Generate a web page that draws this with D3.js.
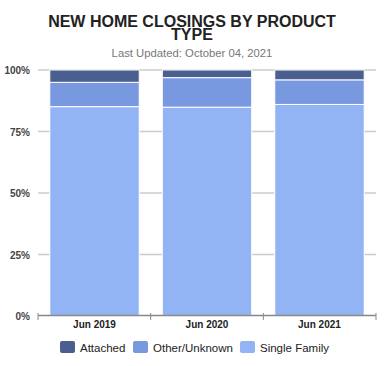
<!DOCTYPE html>
<html><head><meta charset="utf-8">
<script src="https://cdn.jsdelivr.net/npm/d3@7"></script>
<style>body{margin:0;background:#fff;font-family:"Liberation Sans",Arial,sans-serif;}</style>
</head><body><svg id="c" width="388" height="366"></svg>
<script>
const categories = ["Jun 2019","Jun 2020","Jun 2021"];
const seriesNames = ["Single Family","Other/Unknown","Attached"];
const singleFamily = [85.1, 84.9, 86.0];
const otherUnknown = [9.9, 12.0, 10.0];
const attached = [5.0, 3.1, 4.0];
const yTicks = [0,25,50,75,100];
const colors = {"Attached":"#4a5e8f","Other/Unknown":"#7898e0","Single Family":"#93b4f4"};

const svg = d3.select("#c");
const m = {l:38, r:12, t:70, b:50};
const W = 388, H = 366;
const x = d3.scaleBand().domain(categories).range([m.l, W-m.r]).paddingInner(0.205).paddingOuter(0.105);
const y = d3.scaleLinear().domain([0,100]).range([316, 70]);

svg.append("text").attr("x",192).attr("y",27).attr("text-anchor","middle")
  .attr("font-size",16).attr("font-weight","bold").attr("fill","#222").text("NEW HOME CLOSINGS BY PRODUCT");
svg.append("text").attr("x",192).attr("y",39.5).attr("text-anchor","middle")
  .attr("font-size",16).attr("font-weight","bold").attr("fill","#222").text("TYPE");
svg.append("text").attr("x",192).attr("y",57).attr("text-anchor","middle")
  .attr("font-size",11.3).attr("fill","#777").text("Last Updated: October 04, 2021");

// grid
svg.append("g").selectAll("line").data(yTicks.filter(d=>d>0)).join("line")
  .attr("x1",m.l).attr("x2",W-m.r).attr("y1",d=>y(d)).attr("y2",d=>y(d))
  .attr("stroke","#ccc").attr("stroke-width",1.5);
svg.append("g").selectAll("text").data(yTicks).join("text")
  .attr("x",30).attr("y",d=>y(d)+4).attr("text-anchor","end")
  .attr("font-size",10).attr("font-weight","bold").attr("fill","#444").text(d=>d+"%");

const rows = categories.map((c,i)=>({cat:c,"Single Family":singleFamily[i],"Other/Unknown":otherUnknown[i],"Attached":attached[i]}));
const stack = d3.stack().keys(seriesNames)(rows);
svg.append("g").selectAll("g").data(stack).join("g").attr("fill",d=>colors[d.key])
  .selectAll("rect").data(d=>d).join("rect")
  .attr("x",d=>x(d.data.cat)).attr("width",x.bandwidth())
  .attr("y",d=>y(d[1])).attr("height",d=>y(d[0])-y(d[1]))
  .attr("stroke","#fff").attr("stroke-width",1);

// x axis
const ax = svg.append("g");
ax.append("line").attr("x1",m.l).attr("x2",W-m.r).attr("y1",315.5).attr("y2",315.5).attr("stroke","#888").attr("stroke-width",1.5);
const bounds = [m.l, m.l+(W-m.l-m.r)/3, m.l+2*(W-m.l-m.r)/3, W-m.r];
ax.selectAll("line.t").data(bounds).join("line").attr("class","t")
  .attr("x1",d=>d).attr("x2",d=>d).attr("y1",313).attr("y2",320).attr("stroke","#888");
ax.selectAll("text").data(categories).join("text")
  .attr("x",d=>x(d)+x.bandwidth()/2).attr("y",328).attr("text-anchor","middle")
  .attr("font-size",10).attr("font-weight","bold").attr("fill","#222").text(d=>d);

// legend
const legendItems = [["Attached",60],["Other/Unknown",133],["Single Family",240]];
const lg = svg.append("g");
legendItems.forEach(([k,lx])=>{
  lg.append("rect").attr("x",lx).attr("y",341).attr("width",15).attr("height",12).attr("rx",2).attr("fill",colors[k]);
  lg.append("text").attr("x",lx+20).attr("y",352).attr("font-size",11.5).attr("fill","#222").text(k);
});
</script></body></html>
